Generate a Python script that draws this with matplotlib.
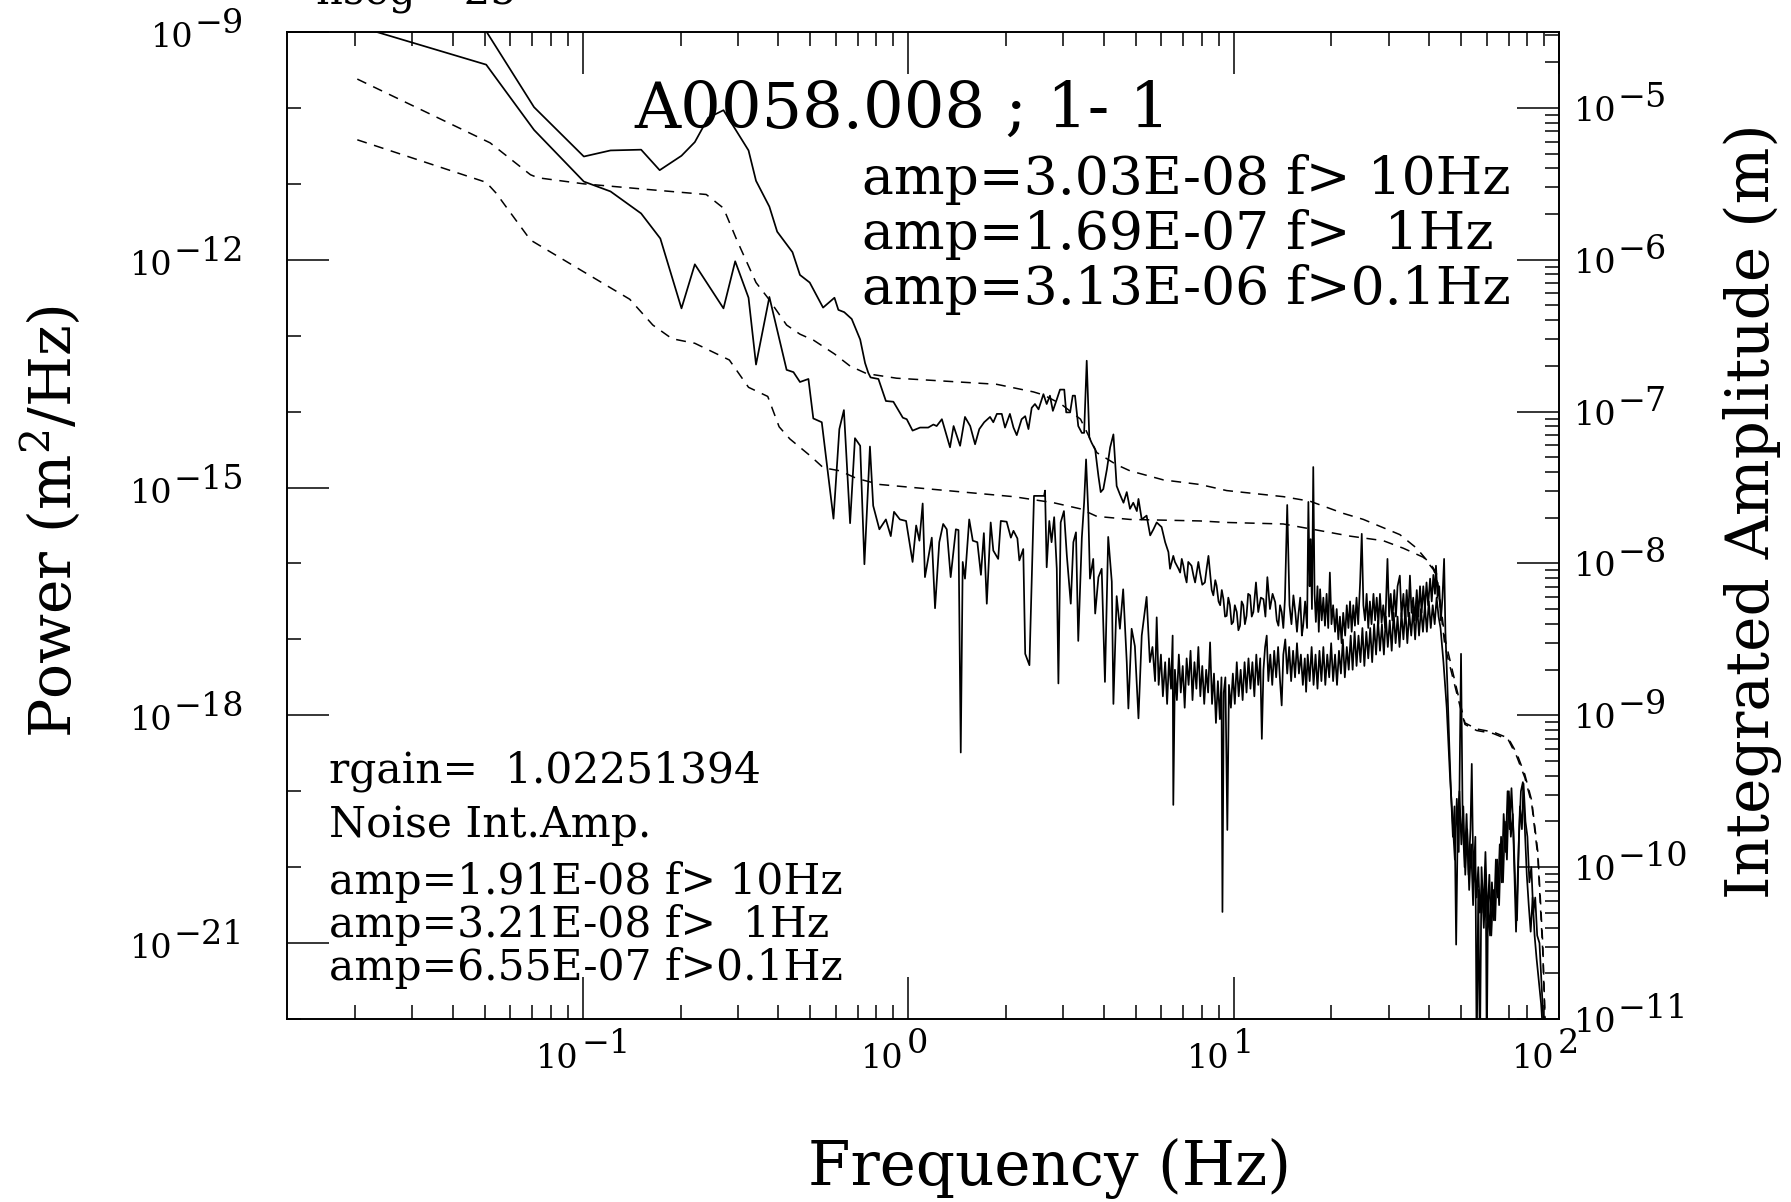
import numpy as np
import matplotlib.pyplot as plt
from matplotlib.ticker import FixedLocator, LogLocator, NullFormatter

# values, as (log10 f [Hz], log10 value)
# signal power spectrum, m^2/Hz
signal_psd = [
    (-1.687, -8.40), (-1.296, -8.99), (-1.149, -9.99), (-0.996, -10.64), (-0.914, -10.56),
    (-0.820, -10.55), (-0.763, -10.82), (-0.696, -10.63), (-0.655, -10.45), (-0.614, -10.13),
    (-0.567, -10.03), (-0.490, -10.56), (-0.467, -10.96), (-0.426, -11.30), (-0.402, -11.63),
    (-0.355, -11.90), (-0.332, -12.20), (-0.302, -12.30), (-0.261, -12.63), (-0.226, -12.50),
    (-0.214, -12.66), (-0.196, -12.69), (-0.173, -12.78), (-0.147, -13.05), (-0.132, -13.36),
    (-0.122, -13.49), (-0.115, -13.55), (-0.091, -13.57), (-0.068, -13.86), (-0.045, -13.87),
    (-0.016, -14.08), (-0.004, -14.10), (0.014, -14.25), (0.037, -14.21), (0.062, -14.21),
    (0.078, -14.17), (0.088, -14.19), (0.104, -14.10), (0.114, -14.25), (0.129, -14.47),
    (0.140, -14.19), (0.160, -14.45), (0.175, -14.07), (0.191, -14.19), (0.206, -14.43),
    (0.219, -14.23), (0.234, -14.14), (0.252, -14.07), (0.262, -14.14), (0.273, -14.03),
    (0.288, -14.03), (0.298, -14.21), (0.313, -14.03), (0.324, -14.21), (0.334, -14.31),
    (0.349, -14.10), (0.360, -14.06), (0.370, -14.23), (0.380, -13.95), (0.390, -13.90),
    (0.401, -13.97), (0.416, -13.77), (0.426, -13.90), (0.436, -13.79), (0.445, -13.99),
    (0.457, -13.84), (0.467, -13.71), (0.480, -13.71), (0.486, -14.01), (0.498, -14.01),
    (0.506, -13.79), (0.513, -13.79), (0.523, -14.19), (0.534, -14.28), (0.541, -14.28),
    (0.549, -13.33), (0.557, -14.34), (0.564, -14.41), (0.575, -14.50), (0.585, -14.85),
    (0.592, -15.06), (0.600, -15.02), (0.611, -14.76), (0.621, -14.47), (0.631, -14.30),
    (0.636, -14.63), (0.641, -14.98), (0.651, -15.09), (0.662, -15.20), (0.672, -15.06),
    (0.682, -15.28), (0.692, -15.20), (0.703, -15.31), (0.708, -15.15), (0.718, -15.42),
    (0.733, -15.37), (0.744, -15.63), (0.754, -15.55), (0.764, -15.46), (0.779, -15.52),
    (0.790, -15.72), (0.800, -15.85), (0.805, -16.07), (0.815, -15.90), (0.820, -15.98),
    (0.831, -16.07), (0.836, -16.12), (0.841, -15.94), (0.846, -16.03), (0.851, -16.16),
    (0.856, -16.25), (0.861, -15.98), (0.871, -16.03), (0.877, -16.16), (0.882, -16.25),
    (0.892, -15.98), (0.897, -16.12), (0.904, -16.28), (0.912, -16.25), (0.918, -16.05),
    (0.923, -15.90), (0.928, -16.12), (0.933, -16.35), (0.938, -16.42), (0.944, -16.22),
    (0.948, -16.29), (0.954, -16.50), (0.959, -16.55), (0.964, -16.35), (0.969, -16.47),
    (0.974, -16.70), (0.979, -16.69), (0.984, -16.45), (0.989, -16.55), (0.994, -16.80),
    (0.999, -16.77), (1.004, -16.55), (1.010, -16.64), (1.015, -16.88), (1.020, -16.82),
    (1.025, -16.50), (1.030, -16.55), (1.035, -16.80), (1.040, -16.69), (1.045, -16.40),
    (1.051, -16.42), (1.056, -16.70), (1.061, -16.64), (1.069, -16.25), (1.076, -16.64),
    (1.084, -16.45), (1.092, -16.47), (1.098, -16.70), (1.104, -16.18), (1.112, -16.60),
    (1.120, -16.40), (1.128, -16.51), (1.133, -16.75), (1.138, -16.82), (1.143, -16.55),
    (1.148, -16.64), (1.153, -16.85), (1.158, -16.47), (1.165, -15.23), (1.172, -16.55),
    (1.178, -16.80), (1.184, -16.42), (1.190, -16.65), (1.195, -16.90), (1.199, -16.69),
    (1.205, -16.45), (1.210, -16.95), (1.214, -16.82), (1.220, -16.50), (1.226, -16.85),
    (1.230, -15.19), (1.234, -16.30), (1.237, -15.68), (1.241, -16.60), (1.245, -14.73),
    (1.249, -16.40), (1.253, -16.77), (1.258, -16.30), (1.262, -16.90), (1.266, -16.34),
    (1.271, -16.75), (1.276, -16.45), (1.281, -16.82), (1.286, -16.40), (1.291, -16.85),
    (1.296, -16.12), (1.301, -16.80), (1.306, -16.55), (1.312, -16.90), (1.317, -16.60),
    (1.322, -17.00), (1.327, -16.70), (1.332, -17.05), (1.337, -16.65), (1.343, -16.95),
    (1.348, -16.55), (1.353, -16.85), (1.358, -16.50), (1.363, -16.90), (1.368, -16.55),
    (1.373, -16.82), (1.378, -16.45), (1.383, -16.80), (1.389, -16.25), (1.394, -15.61),
    (1.399, -16.55), (1.404, -16.75), (1.409, -16.40), (1.414, -16.85), (1.419, -16.50),
    (1.424, -16.80), (1.430, -16.40), (1.435, -16.75), (1.440, -16.45), (1.445, -16.80),
    (1.450, -16.40), (1.455, -16.78), (1.460, -16.55), (1.466, -16.85), (1.473, -15.94),
    (1.478, -16.70), (1.483, -16.40), (1.488, -16.75), (1.494, -16.35), (1.499, -16.70),
    (1.504, -16.30), (1.511, -16.16), (1.516, -16.70), (1.522, -16.40), (1.527, -16.75),
    (1.532, -16.35), (1.537, -16.70), (1.542, -16.16), (1.547, -16.65), (1.552, -16.45),
    (1.557, -16.75), (1.563, -16.35), (1.568, -16.70), (1.573, -16.30), (1.578, -16.65),
    (1.583, -16.30), (1.588, -16.60), (1.593, -16.25), (1.598, -16.55), (1.604, -16.20),
    (1.609, -16.50), (1.614, -16.15), (1.619, -16.40), (1.622, -16.03), (1.627, -16.45),
    (1.632, -16.30), (1.637, -16.75), (1.642, -16.45), (1.647, -15.94), (1.651, -16.90),
    (1.657, -17.60), (1.663, -18.40), (1.668, -19.00), (1.674, -19.60), (1.679, -19.20),
    (1.684, -21.02), (1.689, -19.40), (1.694, -19.00), (1.700, -19.70), (1.706, -19.20),
    (1.712, -20.10), (1.718, -19.50), (1.724, -20.30), (1.730, -19.70), (1.736, -20.50),
    (1.741, -19.90), (1.747, -20.40), (1.752, -20.00), (1.757, -20.60), (1.763, -20.20),
    (1.769, -20.80), (1.775, -20.10), (1.778, -22.50), (1.782, -20.40), (1.788, -20.90),
    (1.794, -20.20), (1.800, -20.70), (1.806, -19.90), (1.812, -20.40), (1.818, -19.70),
    (1.824, -20.20), (1.830, -19.30), (1.836, -19.80), (1.842, -19.00), (1.848, -19.50),
    (1.854, -18.96), (1.860, -19.53), (1.866, -20.30), (1.871, -20.70), (1.877, -19.60),
    (1.883, -19.00), (1.889, -18.88), (1.895, -19.50), (1.901, -20.10), (1.907, -20.50),
    (1.913, -20.85), (1.919, -20.40), (1.925, -20.90), (1.931, -21.20), (1.938, -21.50),
    (1.945, -21.80), (1.951, -22.20), (1.955, -22.60),
]

# noise power spectrum, m^2/Hz
noise_psd = [
    (-1.687, -8.93), (-1.296, -9.43), (-1.149, -10.29), (-0.996, -10.97), (-0.914, -11.10),
    (-0.820, -11.39), (-0.761, -11.72), (-0.696, -12.64), (-0.655, -12.06), (-0.567, -12.64),
    (-0.531, -12.02), (-0.490, -12.50), (-0.467, -13.38), (-0.426, -12.49), (-0.373, -13.45),
    (-0.352, -13.48), (-0.332, -13.61), (-0.306, -13.57), (-0.291, -14.09), (-0.265, -14.14),
    (-0.229, -15.41), (-0.211, -14.23), (-0.197, -13.98), (-0.178, -15.47), (-0.163, -14.35),
    (-0.147, -14.45), (-0.134, -16.01), (-0.117, -14.46), (-0.107, -15.24), (-0.088, -15.55),
    (-0.068, -15.42), (-0.053, -15.64), (-0.043, -15.32), (-0.025, -15.42), (-0.006, -15.44),
    (0.014, -15.98), (0.025, -15.50), (0.035, -15.70), (0.045, -15.21), (0.052, -16.18),
    (0.073, -15.66), (0.083, -16.59), (0.096, -15.72), (0.108, -15.48), (0.119, -15.55),
    (0.131, -16.18), (0.147, -15.55), (0.155, -15.56), (0.162, -18.49), (0.168, -15.98),
    (0.175, -16.20), (0.188, -15.42), (0.199, -15.70), (0.213, -15.72), (0.224, -16.15),
    (0.233, -15.60), (0.242, -16.53), (0.254, -15.46), (0.262, -15.83), (0.277, -15.94),
    (0.285, -15.44), (0.303, -15.45), (0.316, -15.66), (0.324, -15.57), (0.336, -15.67),
    (0.342, -15.96), (0.354, -15.81), (0.360, -17.19), (0.373, -17.34), (0.387, -15.11),
    (0.418, -15.11), (0.421, -15.04), (0.426, -16.05), (0.434, -15.44), (0.441, -15.72),
    (0.449, -15.39), (0.457, -16.07), (0.462, -17.58), (0.469, -15.46), (0.479, -15.31),
    (0.488, -15.90), (0.500, -16.53), (0.508, -15.72), (0.516, -15.59), (0.523, -17.02),
    (0.534, -15.66), (0.541, -15.20), (0.547, -14.63), (0.554, -15.35), (0.559, -16.20),
    (0.569, -15.94), (0.575, -16.66), (0.585, -16.18), (0.595, -16.07), (0.605, -17.56),
    (0.615, -15.65), (0.626, -16.24), (0.631, -17.85), (0.641, -16.43), (0.651, -16.86),
    (0.661, -16.34), (0.672, -17.30), (0.677, -17.91), (0.687, -16.86), (0.697, -17.09),
    (0.708, -18.04), (0.718, -16.95), (0.733, -16.44), (0.743, -17.30), (0.751, -17.10),
    (0.759, -17.55), (0.764, -16.71), (0.770, -17.60), (0.777, -17.20), (0.783, -17.75),
    (0.790, -17.30), (0.796, -17.85), (0.802, -17.25), (0.808, -17.65), (0.813, -16.95),
    (0.815, -19.18), (0.820, -17.40), (0.826, -17.80), (0.832, -17.20), (0.838, -17.70),
    (0.844, -17.35), (0.850, -17.90), (0.856, -17.25), (0.862, -17.60), (0.868, -17.15),
    (0.874, -17.80), (0.880, -17.30), (0.886, -17.65), (0.892, -17.10), (0.898, -17.75),
    (0.904, -17.35), (0.910, -17.85), (0.916, -17.40), (0.922, -17.70), (0.928, -17.04),
    (0.934, -17.85), (0.940, -17.45), (0.946, -18.10), (0.952, -17.55), (0.958, -18.05),
    (0.963, -17.50), (0.966, -20.59), (0.970, -17.70), (0.975, -17.50), (0.981, -19.51),
    (0.986, -17.60), (0.992, -17.90), (0.998, -17.45), (1.004, -17.85), (1.010, -17.30),
    (1.016, -17.75), (1.022, -17.40), (1.028, -17.80), (1.034, -17.30), (1.040, -17.70),
    (1.046, -17.25), (1.052, -17.65), (1.058, -17.30), (1.064, -17.75), (1.070, -17.20),
    (1.076, -17.60), (1.082, -17.25), (1.087, -18.31), (1.092, -17.40), (1.097, -17.10),
    (1.102, -16.95), (1.107, -17.55), (1.113, -17.20), (1.119, -17.60), (1.125, -17.15),
    (1.131, -17.50), (1.137, -17.10), (1.143, -17.55), (1.148, -17.87), (1.153, -17.20),
    (1.159, -17.00), (1.165, -17.45), (1.171, -17.10), (1.177, -17.55), (1.183, -17.15),
    (1.189, -17.50), (1.195, -17.05), (1.201, -17.45), (1.207, -17.20), (1.213, -17.60),
    (1.219, -17.25), (1.223, -17.69), (1.228, -17.20), (1.234, -17.55), (1.240, -17.10),
    (1.246, -17.60), (1.252, -17.20), (1.258, -17.65), (1.264, -17.15), (1.270, -17.55),
    (1.276, -17.10), (1.282, -17.60), (1.288, -17.20), (1.294, -17.50), (1.300, -17.05),
    (1.306, -17.55), (1.312, -17.20), (1.318, -17.60), (1.324, -17.15), (1.330, -17.45),
    (1.336, -17.00), (1.342, -17.50), (1.348, -17.10), (1.354, -17.40), (1.360, -16.95),
    (1.366, -17.40), (1.372, -16.90), (1.378, -17.35), (1.384, -16.95), (1.390, -17.30),
    (1.396, -16.85), (1.402, -17.35), (1.408, -16.90), (1.414, -17.25), (1.420, -16.85),
    (1.426, -17.30), (1.432, -16.80), (1.438, -17.20), (1.444, -16.75), (1.450, -17.15),
    (1.456, -16.80), (1.462, -17.20), (1.468, -16.70), (1.474, -17.10), (1.480, -16.75),
    (1.486, -17.15), (1.492, -16.65), (1.498, -17.05), (1.504, -16.70), (1.510, -17.10),
    (1.516, -16.65), (1.522, -17.00), (1.528, -16.60), (1.534, -17.05), (1.540, -16.65),
    (1.546, -16.95), (1.552, -16.60), (1.558, -17.00), (1.564, -16.55), (1.570, -16.95),
    (1.576, -16.60), (1.582, -16.90), (1.588, -16.55), (1.594, -16.90), (1.600, -16.50),
    (1.606, -16.85), (1.612, -16.55), (1.618, -16.80), (1.624, -16.45), (1.630, -16.70),
    (1.636, -16.85), (1.645, -17.30), (1.655, -17.90), (1.665, -18.80), (1.672, -19.30),
    (1.680, -19.90), (1.686, -19.10), (1.692, -19.80), (1.699, -17.19), (1.704, -19.40),
    (1.710, -20.00), (1.716, -19.30), (1.722, -20.10), (1.728, -19.50), (1.732, -18.64),
    (1.737, -20.20), (1.743, -19.60), (1.747, -22.50), (1.752, -20.30), (1.757, -22.50),
    (1.762, -20.00), (1.768, -20.60), (1.774, -19.80), (1.780, -20.70), (1.786, -20.10),
    (1.792, -20.90), (1.798, -20.30), (1.804, -20.70), (1.810, -19.90), (1.816, -20.50),
    (1.822, -19.60), (1.828, -20.20), (1.834, -19.40), (1.840, -19.90), (1.846, -19.00),
    (1.852, -19.60), (1.858, -19.30), (1.863, -20.10), (1.868, -20.85), (1.874, -20.00),
    (1.880, -19.20), (1.886, -19.50), (1.891, -18.90), (1.897, -19.40), (1.903, -19.60),
    (1.909, -20.20), (1.915, -20.00), (1.921, -20.60), (1.927, -20.40), (1.933, -20.90),
    (1.940, -21.00), (1.947, -21.60), (1.953, -22.10), (1.957, -22.50),
]

# integrated amplitude above f, m (right axis)
signal_int = [
    (-1.692, -4.81), (-1.284, -5.23), (-1.160, -5.44), (-1.137, -5.46), (-0.996, -5.50),
    (-0.784, -5.54), (-0.620, -5.57), (-0.567, -5.66), (-0.526, -5.87), (-0.467, -6.15),
    (-0.431, -6.25), (-0.373, -6.43), (-0.332, -6.49), (-0.290, -6.53), (-0.226, -6.62),
    (-0.178, -6.70), (-0.127, -6.75), (-0.035, -6.78), (0.119, -6.80), (0.272, -6.82),
    (0.385, -6.87), (0.416, -6.89), (0.470, -6.95), (0.530, -7.05), (0.580, -7.27),
    (0.641, -7.35), (0.682, -7.39), (0.785, -7.45), (0.897, -7.48), (0.979, -7.52),
    (1.153, -7.56), (1.235, -7.59), (1.337, -7.67), (1.399, -7.71), (1.511, -7.81),
    (1.563, -7.90), (1.614, -8.03), (1.624, -8.07), (1.650, -8.50), (1.696, -8.92),
    (1.711, -9.05), (1.747, -9.09), (1.798, -9.11), (1.844, -9.15), (1.870, -9.25),
    (1.895, -9.39), (1.916, -9.56), (1.935, -9.90), (1.950, -10.50), (1.960, -11.20),
]
noise_int = [
    (-1.692, -5.21), (-1.296, -5.49), (-1.266, -5.56), (-1.160, -5.87), (-0.996, -6.08),
    (-0.855, -6.26), (-0.784, -6.43), (-0.725, -6.52), (-0.655, -6.55), (-0.549, -6.66),
    (-0.490, -6.84), (-0.431, -6.90), (-0.396, -7.10), (-0.363, -7.18), (-0.301, -7.29),
    (-0.260, -7.37), (-0.209, -7.39), (-0.158, -7.44), (-0.086, -7.48), (0.119, -7.52),
    (0.324, -7.56), (0.447, -7.60), (0.529, -7.64), (0.580, -7.69), (0.682, -7.71),
    (0.897, -7.72), (0.979, -7.73), (1.153, -7.74), (1.256, -7.78), (1.358, -7.82),
    (1.460, -7.85), (1.522, -7.90), (1.584, -7.96), (1.614, -8.04), (1.624, -8.09),
    (1.650, -8.55), (1.696, -8.94), (1.711, -9.06), (1.747, -9.10), (1.798, -9.12),
    (1.844, -9.16), (1.870, -9.27), (1.895, -9.41), (1.916, -9.58), (1.935, -9.93),
    (1.950, -10.55), (1.960, -11.20),
]

freq_ticks = [0.1, 1, 10, 100]
freq_exps = ["\u22121", "0", "1", "2"]
power_ticks = [1e-21, 1e-18, 1e-15, 1e-12, 1e-9]
power_exps = ["\u221221", "\u221218", "\u221215", "\u221212", "\u22129"]
amp_ticks = [1e-11, 1e-10, 1e-9, 1e-8, 1e-7, 1e-6, 1e-5]
amp_exps = ["\u221211", "\u221210", "\u22129", "\u22128", "\u22127", "\u22126", "\u22125"]

title = "A0058.008 ; 1- 1"
signal_lines = ["amp=3.03E-08 f> 10Hz", "amp=1.69E-07 f>  1Hz", "amp=3.13E-06 f>0.1Hz"]
noise_lines = ["amp=1.91E-08 f> 10Hz", "amp=3.21E-08 f>  1Hz", "amp=6.55E-07 f>0.1Hz"]
rgain_line = "rgain=  1.02251394"

plt.rcParams["font.family"] = ["DejaVu Serif"]
plt.rcParams["mathtext.fontset"] = "dejavuserif"
plt.rcParams["axes.linewidth"] = 1.2

W, H = 1791, 1202
fig = plt.figure(figsize=(W / 100, H / 100), dpi=100)
ax = fig.add_axes([287 / W, 1 - 1019 / H, 1272 / W, 987 / H])
ax2 = ax.twinx()

lw = 1.25
dash = (0, (6.5, 5))
for series in (signal_psd, noise_psd):
    lf, lp = np.array(series).T
    ax.plot(10 ** lf, 10 ** lp, color="black", lw=lw)
for series in (signal_int, noise_int):
    lf, la = np.array(series).T
    ax2.plot(10 ** lf, 10 ** la, color="black", lw=1.1, linestyle=dash)

ax.set_xscale("log")
ax.set_yscale("log")
ax2.set_yscale("log")
ax.set_xlim(0.01236, 100)
ax.set_ylim(1e-22, 1e-9)
ax2.set_ylim(1e-11, 10 ** -4.5)

ax.xaxis.set_major_locator(FixedLocator(freq_ticks))
ax.xaxis.set_minor_locator(LogLocator(base=10, subs=np.arange(2, 10), numticks=50))
ax.yaxis.set_major_locator(FixedLocator(power_ticks))
ax.yaxis.set_minor_locator(FixedLocator([10.0 ** k for k in range(-22, -8)]))
ax2.yaxis.set_major_locator(FixedLocator(amp_ticks))
ax2.yaxis.set_minor_locator(LogLocator(base=10, subs=np.arange(2, 10), numticks=50))
for a in (ax.xaxis, ax.yaxis, ax2.yaxis):
    a.set_minor_formatter(NullFormatter())

ax.tick_params(which="major", direction="in", length=30, width=1.1, top=True, right=False,
               labelbottom=False, labelleft=False)
ax.tick_params(which="minor", direction="in", length=10, width=1.1, top=True, right=False)
ax2.tick_params(which="major", direction="in", length=30, width=1.1, left=False, labelright=False)
ax2.tick_params(which="minor", direction="in", length=10, width=1.1, left=False)

# PGPLOT-style tick labels: "10" with a raised, full-size exponent
renderer = fig.canvas.get_renderer()
tk = dict(fontsize=24, va="baseline")
y_bottom = ax.transData.transform((1, 1e-22))[1]
for val, e in zip(freq_ticks, freq_exps):
    x = ax.transData.transform((val, 1e-22))[0]
    fig.text((x - 4) / W, (y_bottom - 49) / H, "10", ha="right", **tk)
    fig.text((x - 1) / W, (y_bottom - 34) / H, e, ha="left", **tk)
for val, e in zip(power_ticks, power_exps):
    y = ax.transData.transform((1, val))[1]
    t = fig.text(244 / W, (y - 1) / H, e, ha="right", **tk)
    x0 = t.get_window_extent(renderer).x0
    fig.text((x0 - 1) / W, (y - 15) / H, "10", ha="right", **tk)
for val, e in zip(amp_ticks, amp_exps):
    y = ax2.transData.transform((1, val))[1]
    t = fig.text(1574 / W, (y - 13) / H, "10", ha="left", **tk)
    x1 = t.get_window_extent(renderer).x1
    fig.text((x1 + 1) / W, (y + 1) / H, e, ha="left", **tk)

# axis titles
fig.text(1050 / W, 1 - 1185 / H, "Frequency (Hz)", ha="center", va="baseline", fontsize=44)
fig.text(52 / W, 1 - 521 / H, "Power (m$^2$/Hz)", rotation=90, ha="center", va="center", fontsize=42)
fig.text(1752 / W, 1 - 511 / H, "Integrated Amplitude (m)", rotation=90, ha="center", va="center",
         fontsize=43)

# annotations
fig.text(316 / W, 1 - 5 / H, "nseg= 25", ha="left", va="baseline", fontsize=30)
fig.text(634 / W, 1 - 128 / H, title, ha="left", va="baseline", fontsize=46)
for i, s in enumerate(signal_lines):
    fig.text(862 / W, 1 - (194 + 55 * i) / H, s, ha="left", va="baseline", fontsize=38.5)
fig.text(329 / W, 1 - 782 / H, rgain_line, ha="left", va="baseline", fontsize=30.5)
fig.text(329 / W, 1 - 837 / H, "Noise Int.Amp.", ha="left", va="baseline", fontsize=30.5)
for i, s in enumerate(noise_lines):
    fig.text(329 / W, 1 - (894 + 43 * i) / H, s, ha="left", va="baseline", fontsize=30.5)

fig.savefig("out.png", dpi=100)
